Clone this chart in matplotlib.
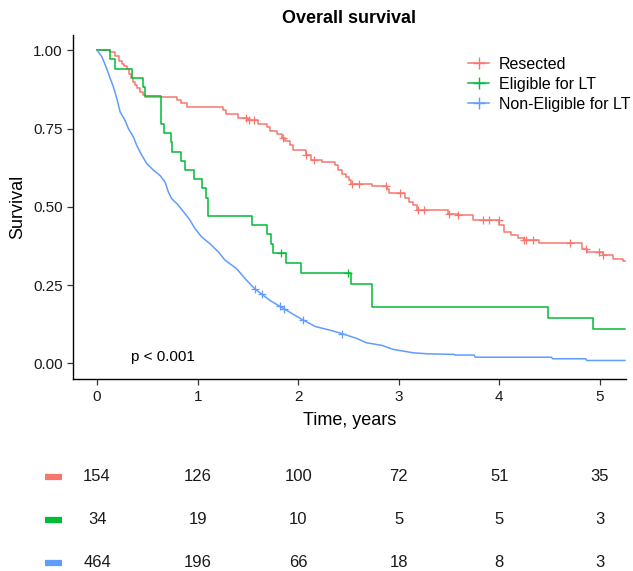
import numpy as np
from matplotlib import pyplot as plt
from matplotlib.lines import Line2D
import matplotlib.transforms as mtransforms

plt.rcParams['font.family'] = ['Liberation Sans', 'DejaVu Sans']

groups = ["Resected", "Eligible for LT", "Non-Eligible for LT"]
colors = ["#F8766D", "#00BA38", "#619CFF"]

# Resected: step times and survival after each step
res_t = [0, 0.13, 0.18, 0.22, 0.245, 0.27, 0.295, 0.32, 0.34, 0.36, 0.378, 0.40, 0.43,
         0.455, 0.477, 0.79, 0.835, 0.89, 1.256, 1.28, 1.40, 1.50, 1.60, 1.69, 1.72,
         1.79, 1.84, 1.87, 1.92, 1.95, 2.08, 2.13, 2.24, 2.37, 2.40, 2.44, 2.48, 2.51,
         2.53, 2.73, 2.88, 2.90, 3.06, 3.10, 3.145, 3.18, 3.49, 3.59, 3.74, 4.00, 4.05,
         4.12, 4.19, 4.25, 4.39, 4.82, 4.87, 5.03, 5.13, 5.23, 5.25]
res_s = [1.0, 0.993, 0.980, 0.967, 0.957, 0.948, 0.941, 0.925, 0.911, 0.900, 0.889, 0.878,
         0.866, 0.857, 0.850, 0.840, 0.830, 0.819, 0.808, 0.797, 0.785, 0.776, 0.766,
         0.755, 0.742, 0.732, 0.721, 0.710, 0.699, 0.680, 0.665, 0.651, 0.643, 0.633,
         0.619, 0.606, 0.595, 0.585, 0.574, 0.565, 0.558, 0.544, 0.529, 0.515, 0.505,
         0.489, 0.478, 0.473, 0.457, 0.441, 0.419, 0.411, 0.400, 0.395, 0.384, 0.366,
         0.356, 0.345, 0.334, 0.326, 0.326]
res_cens = [1.48, 1.51, 1.56, 1.85, 2.08, 2.16, 2.54, 2.60, 2.87, 3.01, 3.19, 3.25, 3.50,
            3.59, 3.84, 3.90, 3.995, 4.25, 4.27, 4.34, 4.70, 4.86, 4.99, 5.03]

# Eligible for LT
elig_t = [0, 0.13, 0.18, 0.345, 0.46, 0.48, 0.636, 0.67, 0.735, 0.74, 0.835, 0.875, 0.96,
          1.04, 1.08, 1.10, 1.545, 1.687, 1.73, 1.746, 1.876, 2.03, 2.525, 2.73, 4.48,
          4.93, 5.25]
elig_s = [1.0, 0.971, 0.941, 0.912, 0.882, 0.853, 0.765, 0.735, 0.706, 0.676, 0.647,
          0.618, 0.588, 0.559, 0.529, 0.471, 0.441, 0.412, 0.382, 0.353, 0.321, 0.289,
          0.253, 0.181, 0.145, 0.109, 0.109]
elig_cens = [1.826, 2.50]

# Non-Eligible for LT (many tiny steps, read as a curve)
nonel_t = [0, 0.047, 0.096, 0.13, 0.162, 0.196, 0.229, 0.278, 0.311, 0.361, 0.394, 0.444,
           0.494, 0.56, 0.626, 0.676, 0.709, 0.742, 0.80, 0.875, 0.925, 0.974, 1.04,
           1.123, 1.206, 1.272, 1.389, 1.488, 1.57, 1.72, 1.82, 2.03, 2.17, 2.32, 2.45,
           2.58, 2.68, 2.83, 2.945, 3.145, 3.28, 3.55, 3.56, 3.75, 3.76, 4.52, 4.53,
           4.86, 4.87, 5.25]
nonel_s = [1.0, 0.979, 0.941, 0.91, 0.883, 0.846, 0.803, 0.776, 0.75, 0.723, 0.696, 0.665,
           0.638, 0.617, 0.60, 0.579, 0.547, 0.526, 0.508, 0.478, 0.457, 0.43, 0.404,
           0.382, 0.356, 0.330, 0.302, 0.265, 0.238, 0.201, 0.182, 0.142, 0.118, 0.106,
           0.094, 0.080, 0.066, 0.058, 0.045, 0.034, 0.031, 0.029, 0.027, 0.027, 0.020,
           0.020, 0.015, 0.015, 0.0096, 0.0096]
nonel_cens = [1.57, 1.64, 1.82, 1.86, 2.045, 2.44]

risk_times = [0, 1, 2, 3, 4, 5]
risk_res = [154, 126, 100, 72, 51, 35]
risk_elig = [34, 19, 10, 5, 5, 3]
risk_nonel = [464, 196, 66, 18, 8, 3]

fig = plt.figure(figsize=(6.33, 5.71), dpi=100)
ax = fig.add_axes([0.1153, 0.336, 0.8736, 0.6035])


def step_value(t, s, x):
    i = np.searchsorted(t, x, side='right') - 1
    return np.asarray(s)[i]


lw = 1.1
ax.step(res_t, res_s, where='post', color=colors[0], lw=lw)
ax.step(elig_t, elig_s, where='post', color=colors[1], lw=lw)
ax.plot(nonel_t, nonel_s, color=colors[2], lw=lw)

cens_style = dict(ls='none', marker='+', ms=6, mew=0.9)
ax.plot(res_cens, step_value(res_t, res_s, res_cens), color=colors[0], **cens_style)
ax.plot(elig_cens, step_value(elig_t, elig_s, elig_cens), color=colors[1], **cens_style)
ax.plot(nonel_cens, np.interp(nonel_cens, nonel_t, nonel_s), color=colors[2], **cens_style)

ax.set_xlim(-0.24, 5.26)
ax.set_ylim(-0.05, 1.05)
ax.set_xticks([0, 1, 2, 3, 4, 5])
ax.set_yticks([0, 0.25, 0.5, 0.75, 1.0])
ax.set_yticklabels(["0.00", "0.25", "0.50", "0.75", "1.00"])
ax.tick_params(labelsize=11, length=4, width=0.9, color='#333333', labelcolor='#1a1a1a')
for side in ['top', 'right']:
    ax.spines[side].set_visible(False)
for side in ['left', 'bottom']:
    ax.spines[side].set_linewidth(1.0)
ax.set_xlabel("Time, years", fontsize=13, labelpad=6)
ax.set_ylabel("Survival", fontsize=13, labelpad=5)
ax.set_title("Overall survival", fontsize=13, fontweight='bold', pad=8)

ax.text(0.34, 0.02, "p < 0.001", fontsize=11, ha='left', va='center')

handles = [Line2D([], [], color=c, lw=lw, marker='+', ms=9, mew=1.0) for c in colors]
ax.legend(handles, groups, loc='upper left', bbox_to_anchor=(0.715, 0.935),
          frameon=False, fontsize=11.5, handlelength=1.3, handletextpad=0.6,
          labelspacing=0.3, borderpad=0, borderaxespad=0)

# risk table
rax = fig.add_axes([0.1153, 0.0, 0.8736, 0.203])
rax.set_xlim(ax.get_xlim())
rax.set_ylim(2.19, -0.51)
rax.axis('off')
trans = mtransforms.blended_transform_factory(rax.transAxes, rax.transData)
for row, (vals, c) in enumerate(zip([risk_res, risk_elig, risk_nonel], colors)):
    for t, v in zip(risk_times, vals):
        rax.text(t, row, str(v), fontsize=12, ha='center', va='center', color='#1a1a1a')
    rax.plot([-0.0506, -0.0199], [row, row], color=c, lw=4.5, transform=trans,
             clip_on=False, solid_capstyle='butt')

fig.savefig("out.png", dpi=100)
